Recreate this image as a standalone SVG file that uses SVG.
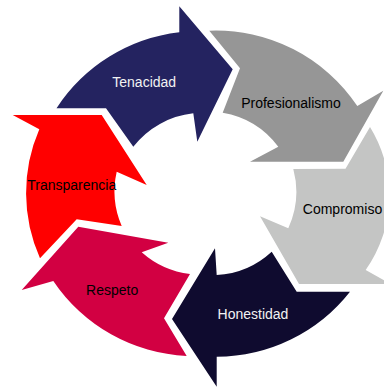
<svg xmlns="http://www.w3.org/2000/svg" width="384" height="389" viewBox="0 0 384 389">
  <style>
    .lbl { font-family: "Liberation Sans", Arial, sans-serif; font-size: 14px; text-anchor: middle; }
    .dark { fill: #000000; }
    .light { fill: #F2F2F2; }
  </style>
  <rect width="384" height="389" fill="#FFFFFF"/>
  <g id="tenacidad">
    <path fill="#242360" d="M56.5,108.3 L106,108.3 L133.3,146.7 A88,88 0 0 1 193.3,113.3 L197.3,141.7 L232.7,69.3 L179.3,6.3 L179.3,32.3 A170,170 0 0 0 56.5,108.3 Z"/>
    <text class="lbl light" x="144.2" y="87">Tenacidad</text>
  </g>
  <g id="profesionalismo">
    <path fill="#969696" d="M209.3,30.7 L240,68.3 L222.7,112.7 A88,88 0 0 1 278.3,146.7 L250,161.7 L343.3,161.7 L383.3,90.7 L357.3,106 A170,170 0 0 0 209.3,30.7 Z"/>
    <text class="lbl dark" x="291" y="108.3">Profesionalismo</text>
  </g>
  <g id="compromiso">
    <path fill="#C4C5C4" d="M370,127 L345.5,168.7 L293.3,169 A88,88 0 0 1 288.3,228.3 L260,216.3 L299,284 L391,284 L365.7,270 A130,130 0 0 0 370,127 Z"/>
    <text class="lbl dark" x="342.5" y="214.3">Compromiso</text>
  </g>
  <g id="honestidad">
    <path fill="#0F0B2F" d="M350,291.7 L296.7,291.7 L271.7,251.7 A88,88 0 0 1 216.7,275 L215,248.3 L172,319 L216.7,386.7 L216.7,356.7 A170,170 0 0 0 350,291.7 Z"/>
    <text class="lbl light" x="253" y="319">Honestidad</text>
  </g>
  <g id="respeto">
    <path fill="#D20042" d="M186.7,356 L164,318.3 L190,274 A88,88 0 0 1 141.7,252.3 L168.3,242.7 L78.3,226.7 L21.7,290 L53.3,281 A170,170 0 0 0 186.7,356 Z"/>
    <text class="lbl dark" x="112.2" y="295">Respeto</text>
  </g>
  <g id="transparencia">
    <path fill="#FF0000" d="M40,258.3 L76.7,219.3 L121.7,226 A88,88 0 0 1 116.7,171.7 L146.7,185 L101.7,115 L12.7,115 L39.3,129.3 A160,160 0 0 0 40,258.3 Z"/>
    <text class="lbl dark" x="71.7" y="190">Transparencia</text>
  </g>
</svg>
